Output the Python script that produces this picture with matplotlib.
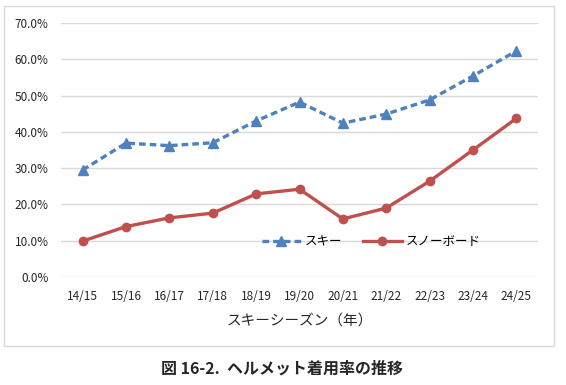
import matplotlib
matplotlib.use("Agg")
import matplotlib.pyplot as plt
from matplotlib.patches import Rectangle
from matplotlib.ticker import FuncFormatter

plt.rcParams['font.family'] = ['Noto Sans CJK JP', 'DejaVu Sans']

# data
seasons = ["14/15", "15/16", "16/17", "17/18", "18/19", "19/20",
           "20/21", "21/22", "22/23", "23/24", "24/25"]
ski = [29.5, 36.9, 36.2, 37.0, 43.0, 48.2, 42.4, 44.9, 48.8, 55.4, 62.3]
snowboard = [9.9, 13.9, 16.3, 17.6, 22.9, 24.2, 16.0, 19.0, 26.4, 35.0, 43.7]
yticks = [0, 10, 20, 30, 40, 50, 60, 70]

BLUE = "#4f81bd"
RED = "#c0504d"
GRID = "#d9d9d9"

W, H = 566, 385
fig = plt.figure(figsize=(W / 100, H / 100), dpi=100)

# outer chart border
fig.patches.append(Rectangle((4 / W, 1 - 346 / H), 550 / W, 340 / H,
                             transform=fig.transFigure, fill=False,
                             edgecolor=GRID, linewidth=1.0))

ax = fig.add_axes([61 / W, 1 - 277 / H, 477 / W, 254 / H])
x = list(range(len(seasons)))

ax.plot(x, ski, color=BLUE, linestyle=(0, (2.0, 1.2)), linewidth=2.4,
        marker="^", markersize=7, label="スキー", zorder=3)
ax.plot(x, snowboard, color=RED, linestyle="-", linewidth=2.4,
        marker="o", markersize=6, label="スノーボード", zorder=3)

ax.set_xlim(-0.5, len(seasons) - 0.5)
ax.set_ylim(0, 70)
ax.set_yticks(yticks)
ax.yaxis.set_major_formatter(FuncFormatter(lambda v, p: f"{v:.1f}%"))
ax.set_xticks(x)
ax.set_xticklabels(seasons)
ax.tick_params(axis="both", length=0, labelsize=8.5, colors="#262626")
ax.tick_params(axis="y", pad=9)
ax.tick_params(axis="x", pad=9)
ax.grid(axis="y", color=GRID, linewidth=1.0)
ax.set_axisbelow(True)
for s in ax.spines.values():
    s.set_visible(False)

ax.set_xlabel("スキーシーズン（年）", fontsize=10.5, labelpad=8, color="#262626")

ax.legend(loc="center left", bbox_to_anchor=(0.421, 0.138), ncol=2,
          frameon=False, fontsize=9, handlelength=3.1, columnspacing=1.7,
          handletextpad=0.3, borderpad=0, borderaxespad=0)

fig.text(282 / W, 1 - 369 / H, "図 16-2.  ヘルメット着用率の推移",
         ha="center", va="center", fontsize=11.5, fontweight="bold",
         color="#262626")

fig.savefig("out.png", dpi=100)
